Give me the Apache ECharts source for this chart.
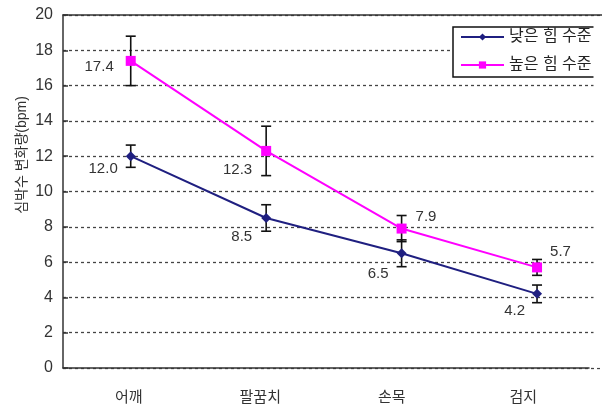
<!DOCTYPE html>
<html>
<head>
<meta charset="utf-8">
<script src="https://cdn.jsdelivr.net/npm/echarts@6/dist/echarts.min.js"></script>
<style>
  html, body { margin: 0; padding: 0; background: #fff; overflow: hidden; }
  #chart { width: 602px; height: 407px; }
</style>
</head>
<body>
<div id="chart"></div>
<script>
// Heart-rate change by body site for low and high force levels
const categories = ['어깨', '팔꿈치', '손목', '검지'];
const lowForce = [12.0, 8.5, 6.5, 4.2];
const highForce = [17.4, 12.3, 7.9, 5.7];
const lowErr = [0.63, 0.75, 0.76, 0.5];
const highErr = [1.4, 1.4, 0.74, 0.45];
const seriesNames = ['낮은 힘 수준', '높은 힘 수준'];
const yTitle = '심박수 변화량(bpm)';

const FONT = '"Liberation Sans", "Noto Sans CJK KR", sans-serif';
const TEXT = '#333';

// label placement per point: [position, distance, dy]
const lowLabelPlace = [['left', 8, 13], ['left', 9, 19], ['left', 8, 21], ['left', 7, 17]];
const highLabelPlace = [['left', 12, 6], ['left', 9, 19], ['right', 9, -12], ['right', 8, -16]];

function withLabels(values, place) {
  return values.map((v, i) => ({
    value: [i, v],
    label: { position: place[i][0], distance: place[i][1], offset: [0, place[i][2]] }
  }));
}

// vertical error bar with caps, drawn through the axis scales
function errorBars(values, errs) {
  return {
    type: 'custom', xAxisIndex: 0, yAxisIndex: 0, z: 1, silent: true,
    data: values.map((v, i) => [i, v, errs[i]]),
    renderItem(params, api) {
      const x = api.value(0), y = api.value(1), e = api.value(2);
      const top = api.coord([x, y + e]);
      const bot = api.coord([x, y - e]);
      const hw = 5;
      const style = { stroke: '#111', lineWidth: 1.6 };
      return {
        type: 'group',
        children: [
          { type: 'line', shape: { x1: top[0], y1: top[1], x2: bot[0], y2: bot[1] }, style },
          { type: 'line', shape: { x1: top[0] - hw, y1: top[1], x2: top[0] + hw, y2: top[1] }, style },
          { type: 'line', shape: { x1: bot[0] - hw, y1: bot[1], x2: bot[0] + hw, y2: bot[1] }, style }
        ]
      };
    }
  };
}

const labelStyle = {
  show: true, color: TEXT, fontSize: 15, fontFamily: FONT,
  formatter: p => p.value[1].toFixed(1)
};

const chart = echarts.init(document.getElementById('chart'), null, { renderer: 'canvas' });
chart.setOption({
  animation: false,
  backgroundColor: '#fff',
  tooltip: { show: false },
  axisPointer: { show: false },
  grid: [
    // plotting grid; its right edge runs past the canvas
    { left: 63, top: 15, width: 600, bottom: 39, outerBoundsMode: 'none', containLabel: false },
    // category grid carrying the x labels and ticks
    { left: 63, top: 15, width: 526, bottom: 39, outerBoundsMode: 'none', containLabel: false }
  ],
  xAxis: [
    {
      type: 'value', gridIndex: 0, min: -0.5, max: 3.93, position: 'top',
      axisLine: { show: true, onZero: false, lineStyle: { color: '#333', width: 1.5 } },
      axisTick: { show: false }, axisLabel: { show: false },
      splitLine: { show: false }, minorSplitLine: { show: false }, axisPointer: { show: false }
    },
    {
      type: 'category', gridIndex: 1, data: categories, boundaryGap: true,
      axisLine: { onZero: false, lineStyle: { color: '#333', width: 1.5 } },
      axisTick: { inside: true, length: 6, lineStyle: { color: '#333', width: 1.5 } },
      axisLabel: { color: TEXT, fontSize: 15, fontFamily: FONT, margin: 22 },
      splitLine: { show: false }, splitArea: { show: false }, axisPointer: { show: false }
    }
  ],
  yAxis: [
    {
      type: 'value', gridIndex: 0, min: 0, max: 20, interval: 2,
      axisLine: { show: true, onZero: false, lineStyle: { color: '#333', width: 1.5 } },
      axisTick: { show: true, inside: true, length: 5, lineStyle: { color: '#333', width: 1.5 } },
      axisLabel: { color: TEXT, fontSize: 16, fontFamily: FONT, margin: 10 },
      splitLine: { show: true, lineStyle: { color: '#444', type: [3, 3], width: 1.3 } }
    },
    {
      type: 'value', gridIndex: 1, min: 0, max: 20, show: false,
      axisLine: { show: false }, splitLine: { show: false }, axisTick: { show: false }, axisLabel: { show: false }
    }
  ],
  legend: {
    orient: 'vertical', left: 453, top: 27, data: seriesNames,
    itemWidth: 43, itemHeight: 9, itemGap: 12, padding: [2, 14, 4, 7],
    borderColor: '#111', borderWidth: 1.5, backgroundColor: '#fff',
    textStyle: { color: '#222', fontSize: 16, fontFamily: FONT, lineHeight: 14 }
  },
  graphic: [{
    type: 'text', x: 22, y: 155, rotation: Math.PI / 2,
    style: { text: yTitle, fill: TEXT, font: '14px ' + FONT, textAlign: 'center', textVerticalAlign: 'middle' }
  }, {
    // keep the open right side of the plot frame clear
    type: 'rect', z: 100, silent: true,
    shape: { x: 593.5, y: 16.5, width: 8.5, height: 351 },
    style: { fill: '#fff' }
  }],
  series: [
    errorBars(lowForce, lowErr),
    errorBars(highForce, highErr),
    {
      name: seriesNames[0], type: 'line', xAxisIndex: 0, yAxisIndex: 0, z: 3,
      data: withLabels(lowForce, lowLabelPlace),
      symbol: 'diamond', symbolSize: 10,
      itemStyle: { color: '#1f1f80' }, lineStyle: { color: '#1f1f80', width: 2 },
      label: labelStyle
    },
    {
      name: seriesNames[1], type: 'line', xAxisIndex: 0, yAxisIndex: 0, z: 3,
      data: withLabels(highForce, highLabelPlace),
      symbol: 'rect', symbolSize: 10,
      itemStyle: { color: '#ff00ff' }, lineStyle: { color: '#ff00ff', width: 2 },
      label: labelStyle
    }
  ]
});
</script>
</body>
</html>
